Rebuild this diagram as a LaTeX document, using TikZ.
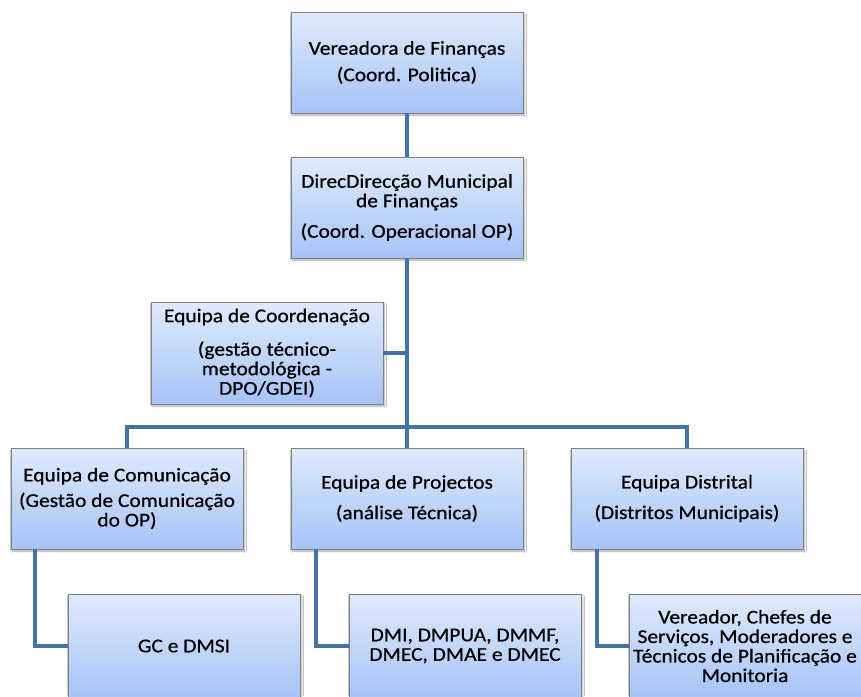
\documentclass[tikz,border=0pt]{standalone}
\usepackage{fontspec}
\setmainfont{Carlito}[FakeStretch=1.1,FakeBold=0.6]
\usetikzlibrary{shadows.blur}
\definecolor{linkblue}{RGB}{70,114,170}
\definecolor{boxtop}{RGB}{224,234,252}
\definecolor{boxbot}{RGB}{166,195,246}
\definecolor{boxedge}{RGB}{128,128,128}
\tikzset{
  orgbox/.style={draw=boxedge, line width=0.9pt, top color=boxtop, bottom color=boxbot,
    minimum width=232pt, minimum height=101pt, inner sep=0pt, outer sep=0pt,
    anchor=north west, align=center,
    font=\fontsize{19.5}{19.5}\selectfont,
    blur shadow={shadow xshift=1.5pt, shadow yshift=-2pt, shadow blur steps=4, shadow opacity=35}},
  leafbox/.style={orgbox, minimum height=104pt},
  link/.style={draw=linkblue, line width=4.5pt}
}
\begin{document}
\begin{tikzpicture}[x=1pt,y=-1pt]
\useasboundingbox (0,0) rectangle (861,696);
\fill[white] (0,0) rectangle (861,696);
\coordinate (junc) at (407,427);
\node[orgbox] (v1) at (291,12) {Vereadora de Finanças\\[7pt](Coord. Politica)};
\node[orgbox] (dir) at (291,157) {DirecDirecção Municipal\\de Finanças\\[11pt](Coord. Operacional OP)};
\node[orgbox, minimum height=102pt] (coord) at (151,302) {Equipa de Coordenação\\[14pt](gestão técnico-\\metodológica -\\DPO/GDEI)};
\node[orgbox] (eqC) at (11,448) {Equipa de Comunicação\\[6pt](Gestão de Comunicação\\do OP)};
\node[orgbox] (eqP) at (291,448) {Equipa de Projectos\\[11pt](análise Técnica)};
\node[orgbox] (eqD) at (571,448) {Equipa Distrital\\[11pt](Distritos Municipais)};
\node[leafbox] (gc) at (68,594) {GC e DMSI};
\node[leafbox] (dmi) at (349,594) {DMI, DMPUA, DMMF,\\DMEC, DMAE e DMEC};
\node[leafbox] (ver) at (629,594) {Vereador, Chefes de\\Serviços, Moderadores e\\Técnicos de Planificação e\\Monitoria};
\draw[link] (v1.south) -- (dir.north);
\draw[link] (dir.south) -- (junc);
\draw[link] (coord.east) -- (coord.east -| junc);
\draw[link] (eqC.north) |- (junc) -| (eqD.north);
\draw[link] (junc) -- (eqP.north);
\draw[link] ([xshift=24pt]eqC.south west) |- (gc.west);
\draw[link] ([xshift=25pt]eqP.south west) |- (dmi.west);
\draw[link] ([xshift=26pt]eqD.south west) |- (ver.west);
\end{tikzpicture}
\end{document}
